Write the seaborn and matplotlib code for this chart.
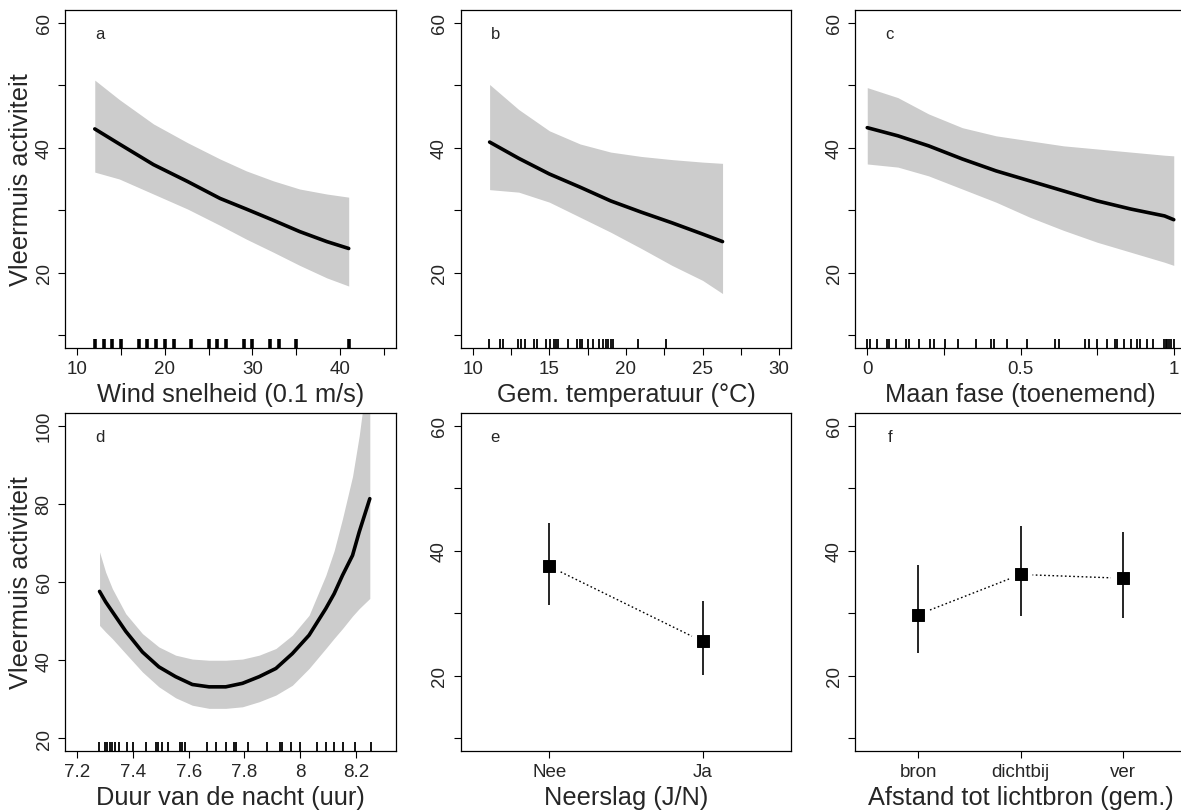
import matplotlib
matplotlib.use("Agg")
import matplotlib.pyplot as plt
import numpy as np
import seaborn as sns

# ---- data ----
# a: wind speed
wind_x = [12, 14.8, 18.7, 22.6, 26.3, 29.3, 32.4, 35.4, 38.5, 41]
wind_fit = [43.0, 40.6, 37.3, 34.6, 31.9, 30.2, 28.4, 26.6, 25.0, 23.9]
wind_hi = [50.8, 47.7, 43.8, 40.8, 38.2, 36.3, 34.7, 33.4, 32.6, 32.1]
wind_lo = [36.1, 35.0, 32.6, 30.2, 27.6, 25.4, 23.3, 21.2, 19.2, 17.9]
wind_rug = [12, 13, 14, 15, 17, 18, 19, 20, 21, 23, 25, 26, 27, 29, 30, 32, 33, 35, 41]

# b: mean temperature
temp_x = [11.1, 13, 15, 17, 19, 21, 23, 25, 26.3]
temp_fit = [40.9, 38.3, 35.8, 33.7, 31.5, 29.7, 28.0, 26.2, 25.0]
temp_hi = [50.1, 46.1, 42.7, 40.6, 39.3, 38.6, 38.1, 37.7, 37.5]
temp_lo = [33.3, 32.9, 31.3, 28.9, 26.5, 23.9, 21.2, 18.8, 16.7]
temp_rug = [11.09, 11.75, 11.97, 12.95, 13.17, 13.39, 13.98, 14.2, 14.76, 15.07,
            15.28, 15.42, 15.57, 16.2, 16.83, 16.99, 17.16, 17.53, 17.86, 18.23,
            18.47, 18.67, 18.84, 19.0, 19.17, 20.76, 22.62]

# c: moon phase
moon_x = [0, 0.1, 0.2, 0.31, 0.42, 0.53, 0.64, 0.75, 0.86, 0.97, 1.0]
moon_fit = [43.2, 41.9, 40.3, 38.2, 36.3, 34.7, 33.1, 31.5, 30.2, 29.1, 28.5]
moon_hi = [49.6, 48.0, 45.4, 43.2, 41.9, 41.1, 40.3, 39.8, 39.3, 38.8, 38.7]
moon_lo = [37.4, 36.9, 35.5, 33.4, 31.3, 28.9, 26.8, 24.9, 23.3, 21.7, 21.2]
moon_rug = [0.0, 0.008, 0.033, 0.064, 0.07, 0.095, 0.126, 0.135, 0.169, 0.204,
            0.217, 0.253, 0.297, 0.354, 0.404, 0.415, 0.457, 0.521, 0.614, 0.626,
            0.712, 0.724, 0.75, 0.781, 0.807, 0.816, 0.837, 0.859, 0.881, 0.89,
            0.914, 0.933, 0.968, 0.974, 0.979, 0.985, 0.99, 1.0]

# d: night length
night_x = [7.28, 7.302, 7.326, 7.374, 7.434, 7.493, 7.553, 7.613, 7.673, 7.733,
           7.793, 7.853, 7.913, 7.972, 8.032, 8.092, 8.122, 8.152, 8.188, 8.212,
           8.25]
night_fit = [57.6, 54.9, 52.4, 47.4, 42.1, 38.3, 35.8, 33.8, 33.2, 33.2,
             34.1, 35.8, 37.9, 41.7, 46.4, 53.2, 57.0, 61.7, 66.8, 72.8,
             81.3]
night_hi = [67.7, 62.5, 58.3, 51.9, 46.8, 43.4, 41.3, 40.3, 40.0, 40.0,
            40.3, 41.3, 43.0, 46.4, 51.5, 61.7, 68.0, 76.2, 87.0, 97.4,
            118.0]
night_lo = [48.9, 47.2, 45.5, 41.7, 37.0, 33.2, 30.4, 28.5, 27.7, 27.7,
            28.1, 29.4, 31.1, 33.6, 37.9, 43.0, 45.6, 48.1, 51.3, 53.2,
            55.8]
night_rug = [7.278, 7.298, 7.308, 7.316, 7.326, 7.335, 7.35, 7.38, 7.4, 7.446,
             7.482, 7.491, 7.503, 7.527, 7.568, 7.577, 7.587, 7.667, 7.699, 7.733,
             7.763, 7.769, 7.814, 7.882, 7.927, 7.934, 7.967, 7.999, 8.062, 8.092,
             8.122, 8.152, 8.197, 8.254]

# e: rain
rain_labels = ["Nee", "Ja"]
rain_mean = [37.5, 25.5]
rain_lo = [31.4, 20.2]
rain_hi = [44.5, 32.0]

# f: distance to light source
dist_labels = ["bron", "dichtbij", "ver"]
dist_mean = [29.8, 36.2, 35.6]
dist_lo = [23.7, 29.6, 29.2]
dist_hi = [37.7, 43.9, 43.0]

# ---- style ----
sns.set_style("ticks")
plt.rcParams["font.family"] = ["Liberation Sans", "DejaVu Sans"]
plt.rcParams["axes.linewidth"] = 0.9
plt.rcParams["axes.edgecolor"] = "black"

BAND = "#cccccc"
TICK_FS = 13.5
LAB_FS = 18.3

W, H = 1181, 812
fig = plt.figure(figsize=(W / 100, H / 100), dpi=100)


def rect(left, top, w=331, h=338):
    return [left / W, 1 - (top + h) / H, w / W, h / H]


def style_axis(ax, xticks, xlabels, yticks, ylabels, xlim, ylim, xlab, letter, ylab=None):
    ax.set_xlim(*xlim)
    ax.set_ylim(*ylim)
    ax.set_xticks(xticks)
    ax.set_xticklabels(xlabels, fontsize=TICK_FS)
    ax.set_yticks(yticks)
    ax.set_yticklabels(ylabels, fontsize=TICK_FS, rotation=90, va="center")
    ax.tick_params(direction="out", length=5, width=0.8, color="black", pad=4)
    ax.set_xlabel(xlab, fontsize=LAB_FS, labelpad=3)
    if ylab:
        ax.set_ylabel(ylab, fontsize=LAB_FS, labelpad=2)
    else:
        ax.set_ylabel("")
    for s in ax.spines.values():
        s.set_visible(True)
        s.set_color("black")
    ax.text(0.105, 0.93, letter, transform=ax.transAxes, fontsize=12,
            ha="center", va="center")


def smooth_panel(ax, x, fit, lo, hi, rug, rug_lw):
    ax.fill_between(x, lo, hi, color=BAND, lw=0, zorder=1)
    sns.lineplot(x=x, y=fit, ax=ax, color="black", lw=2.6, zorder=3)
    sns.rugplot(x=rug, ax=ax, height=0.028, color="black", linewidth=rug_lw,
                expand_margins=False)


def factor_panel(ax, labels, mean, lo, hi):
    pos = np.arange(len(labels))
    sns.lineplot(x=pos, y=mean, ax=ax, color="black", lw=1.0,
                 linestyle=(0, (1.2, 1.8)), zorder=1)
    sns.scatterplot(x=pos, y=mean, ax=ax, marker="o", s=300, color="white",
                    edgecolor="none", zorder=2)
    ax.vlines(pos, lo, hi, color="black", lw=1.2, zorder=3)
    sns.scatterplot(x=pos, y=mean, ax=ax, marker="s", s=70, color="black",
                    edgecolor="black", zorder=4)


y_ticks = [10, 20, 30, 40, 50, 60]
y_labels = ["", "20", "", "40", "", "60"]

# a
ax = fig.add_axes(rect(65, 11))
smooth_panel(ax, wind_x, wind_fit, wind_lo, wind_hi, wind_rug, 2.6)
style_axis(ax, [10, 15, 20, 25, 30, 35, 40, 45],
           ["10", "", "20", "", "30", "", "40", ""],
           y_ticks, y_labels, (8.6, 46.4), (8, 62),
           "Wind snelheid (0.1 m/s)", "a", "Vleermuis activiteit")

# b
ax = fig.add_axes(rect(460.5, 11))
smooth_panel(ax, temp_x, temp_fit, temp_lo, temp_hi, temp_rug, 1.3)
style_axis(ax, [10, 12.5, 15, 17.5, 20, 22.5, 25, 27.5, 30],
           ["10", "", "15", "", "20", "", "25", "", "30"],
           y_ticks, y_labels, (9.2, 30.8), (8, 62),
           "Gem. temperatuur (°C)", "b")

# c
ax = fig.add_axes(rect(855, 11))
smooth_panel(ax, moon_x, moon_fit, moon_lo, moon_hi, moon_rug, 1.3)
style_axis(ax, [0, 0.25, 0.5, 0.75, 1], ["0", "", "0.5", "", "1"],
           y_ticks, y_labels, (-0.04, 1.04), (8, 62),
           "Maan fase (toenemend)", "c")

# d
ax = fig.add_axes(rect(65, 414))
smooth_panel(ax, night_x, night_fit, night_lo, night_hi, night_rug, 1.3)
style_axis(ax, [7.2, 7.4, 7.6, 7.8, 8.0, 8.2],
           ["7.2", "7.4", "7.6", "7.8", "8", "8.2"],
           [20, 40, 60, 80, 100], ["20", "40", "60", "80", "100"],
           (7.156, 8.344), (16.8, 103.2),
           "Duur van de nacht (uur)", "d", "Vleermuis activiteit")

# e
ax = fig.add_axes(rect(460.5, 414))
factor_panel(ax, rain_labels, rain_mean, rain_lo, rain_hi)
style_axis(ax, np.arange(len(rain_labels)), rain_labels,
           y_ticks, y_labels, (-0.58, len(rain_labels) - 0.42), (8, 62),
           "Neerslag (J/N)", "e")

# f
ax = fig.add_axes(rect(855, 414))
factor_panel(ax, dist_labels, dist_mean, dist_lo, dist_hi)
style_axis(ax, np.arange(len(dist_labels)), dist_labels,
           y_ticks, y_labels, (-0.62, len(dist_labels) - 0.38), (8, 62),
           "Afstand tot lichtbron (gem.)", "f")

fig.savefig("out.png", dpi=100, facecolor="white")
